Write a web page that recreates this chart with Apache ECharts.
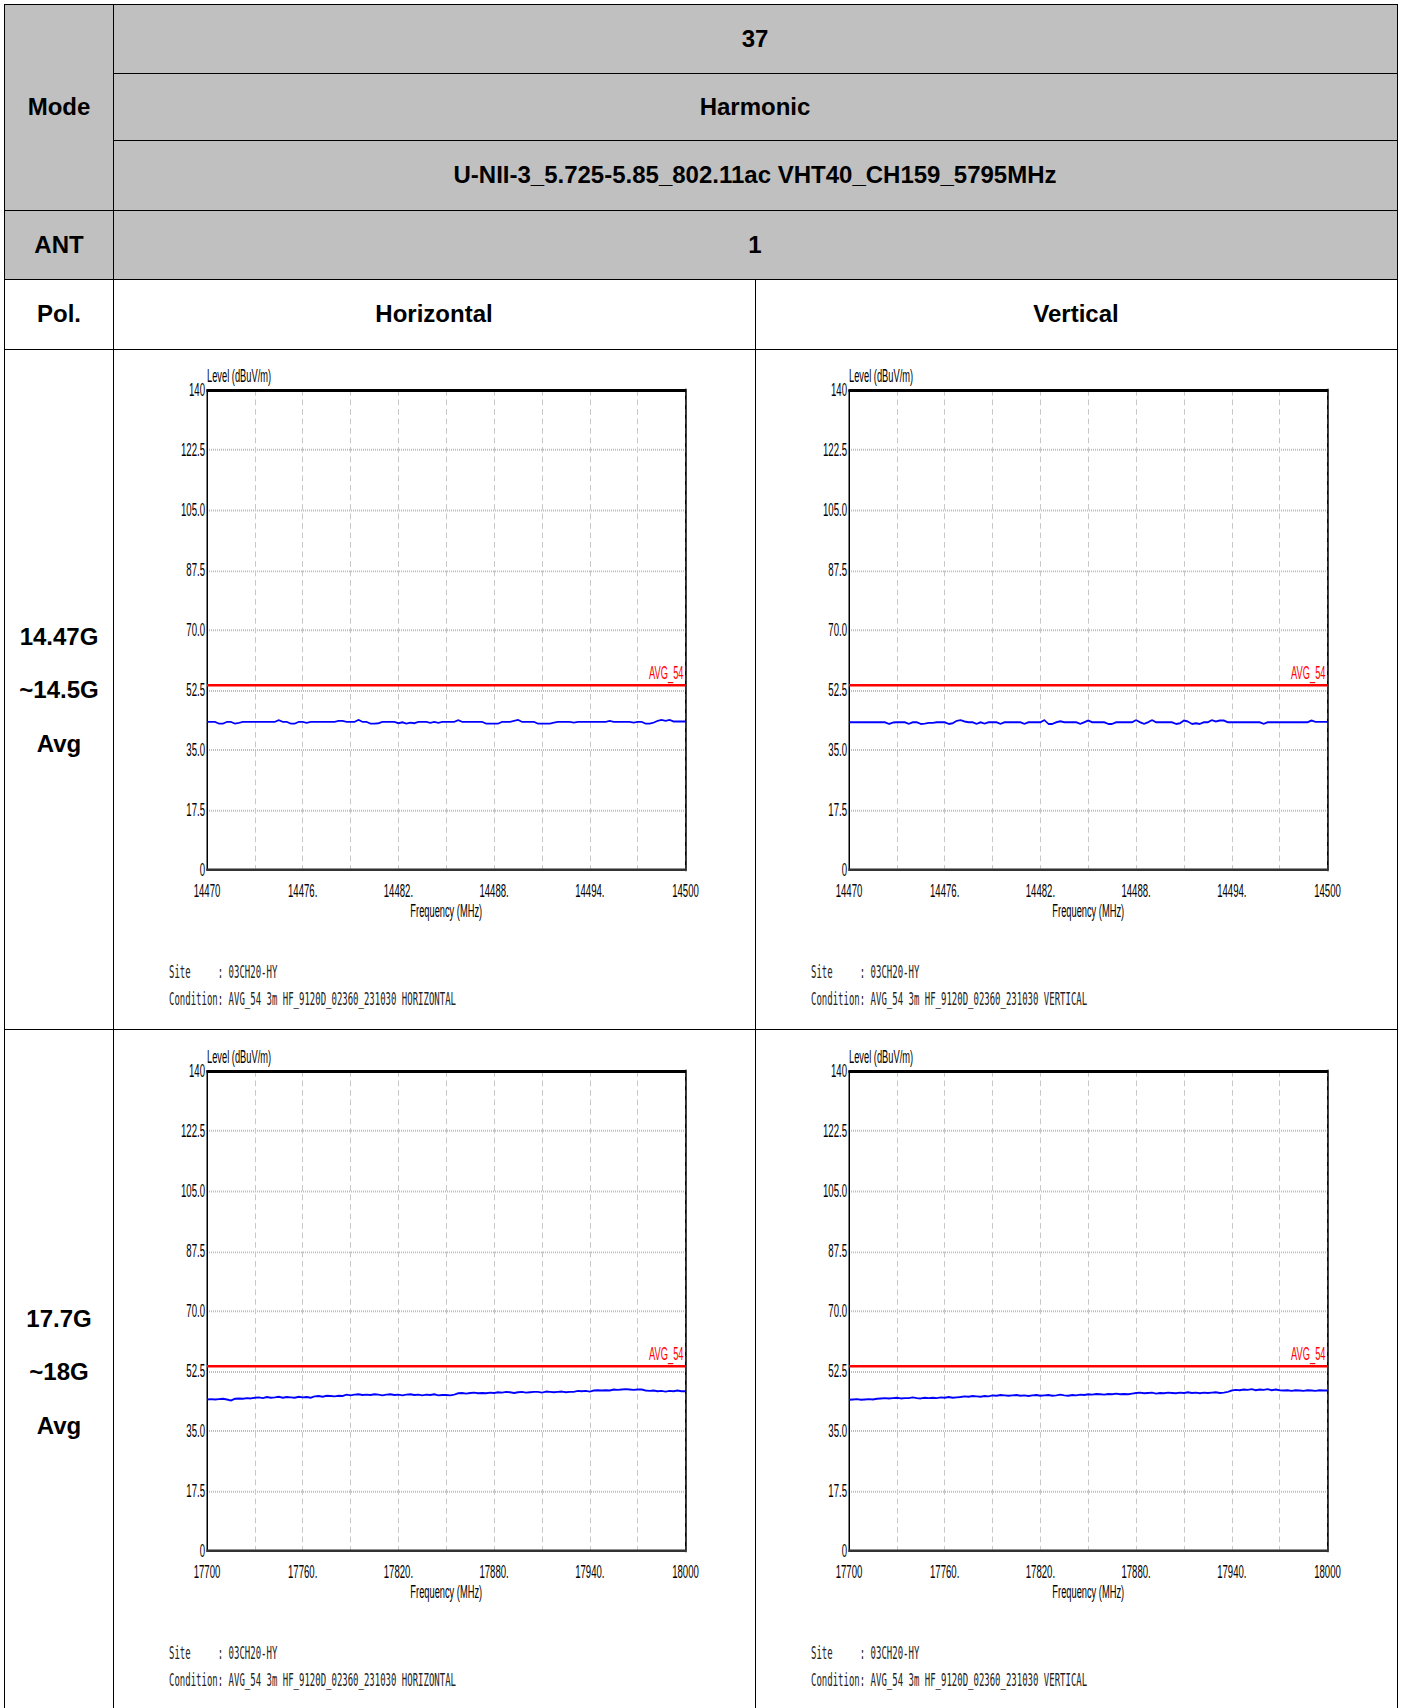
<!DOCTYPE html>
<html>
<head>
<meta charset="utf-8">
<script src="https://cdn.jsdelivr.net/npm/echarts@6/dist/echarts.min.js"></script>
<style>
    body { margin: 0; background: #fff; }
    #page { position: relative; width: 1403px; height: 1708px; overflow: hidden; font-family: "Liberation Sans", Arial, sans-serif; }
    .fill { position: absolute; background: #c0c0c0; }
    .ln { position: absolute; background: #000; }
    .txt { position: absolute; transform: translate(-50%, -50%); font-weight: bold; font-size: 24px; color: #000; white-space: nowrap; }
    .chart { position: absolute; width: 640px; transform-origin: 0 0; }
</style>
</head>
<body>
<div id="page">
    <div class="fill" style="left:4px;top:4px;width:1393px;height:275px"></div>

    <div class="ln" style="left:4px;top:4px;width:1394px;height:1px"></div>
    <div class="ln" style="left:113px;top:73px;width:1285px;height:1px"></div>
    <div class="ln" style="left:113px;top:140px;width:1285px;height:1px"></div>
    <div class="ln" style="left:4px;top:210px;width:1394px;height:1px"></div>
    <div class="ln" style="left:4px;top:279px;width:1394px;height:1px"></div>
    <div class="ln" style="left:4px;top:349px;width:1394px;height:1px"></div>
    <div class="ln" style="left:4px;top:1029px;width:1394px;height:1px"></div>
    <div class="ln" style="left:4px;top:4px;width:1px;height:1710px"></div>
    <div class="ln" style="left:113px;top:4px;width:1px;height:1710px"></div>
    <div class="ln" style="left:755px;top:279px;width:1px;height:1430px"></div>
    <div class="ln" style="left:1397px;top:4px;width:1px;height:1710px"></div>

    <div class="txt" style="left:59px;top:107px">Mode</div>
    <div class="txt" style="left:755px;top:39px">37</div>
    <div class="txt" style="left:755px;top:107px">Harmonic</div>
    <div class="txt" style="left:755px;top:175px">U-NII-3_5.725-5.85_802.11ac VHT40_CH159_5795MHz</div>
    <div class="txt" style="left:59px;top:245px">ANT</div>
    <div class="txt" style="left:755px;top:245px">1</div>
    <div class="txt" style="left:59px;top:314px">Pol.</div>
    <div class="txt" style="left:434px;top:314px">Horizontal</div>
    <div class="txt" style="left:1076px;top:314px">Vertical</div>

    <div class="txt" style="left:59px;top:637px">14.47G</div>
    <div class="txt" style="left:59px;top:690px">~14.5G</div>
    <div class="txt" style="left:59px;top:744px">Avg</div>
    <div class="txt" style="left:59px;top:1319px">17.7G</div>
    <div class="txt" style="left:59px;top:1372px">~18G</div>
    <div class="txt" style="left:59px;top:1426px">Avg</div>

    <div class="chart" id="c1"></div>
    <div class="chart" id="c2"></div>
    <div class="chart" id="c3"></div>
    <div class="chart" id="c4"></div>
</div>
<script>
// tick labels
var yLabels = ['0', '17.5', '35.0', '52.5', '70.0', '87.5', '105.0', '122.5', '140'];
var xLabels1 = ['14470', '', '14476.', '', '14482.', '', '14488.', '', '14494.', '', '14500'];
var xLabels2 = ['17700', '', '17760.', '', '17820.', '', '17880.', '', '17940.', '', '18000'];

var limitLevel = 54;
var limitName = 'AVG_54';

// levels in dBuV/m, evenly spaced over the sweep
var level14H = [
    43.2, 43.2, 43.2, 42.7, 42.7, 43.2, 43.2, 42.7, 42.9, 43.2,
    43.2, 43.2, 43.2, 43.2, 43.2, 43.2, 43.2, 43.2, 43.7, 43.2,
    43.2, 42.7, 42.7, 43.2, 43.2, 42.9, 43.2, 43.2, 43.2, 43.2,
    43.2, 43.2, 43.2, 43.5, 43.5, 43.2, 43.2, 43.2, 43.8, 43.2,
    43.2, 42.7, 42.7, 42.8, 43.2, 43.2, 43.2, 43.2, 42.8, 43.1,
    42.7, 43.0, 42.8, 43.2, 43.2, 43.2, 42.9, 43.2, 42.9, 43.2,
    43.2, 43.2, 43.2, 43.7, 43.2, 43.2, 43.2, 43.2, 43.2, 43.2,
    42.7, 42.7, 42.7, 42.7, 43.2, 43.2, 43.2, 43.5, 43.8, 43.2,
    43.2, 43.2, 43.2, 42.7, 42.7, 42.7, 42.7, 43.0, 43.2, 43.2,
    43.2, 43.2, 43.0, 43.2, 43.2, 43.2, 43.2, 43.2, 43.2, 43.2,
    43.2, 43.5, 43.2, 43.2, 43.2, 43.2, 43.2, 43.0, 43.2, 43.2,
    42.7, 42.7, 43.0, 43.5, 43.8, 43.5, 43.8, 43.3, 43.3, 43.3, 43.3
];
var level14V = [
    43.1, 43.1, 43.1, 43.1, 43.1, 43.1, 43.1, 43.1, 43.1, 43.1,
    42.6, 43.0, 43.1, 43.1, 43.1, 42.6, 43.1, 43.1, 42.6, 42.7,
    42.9, 42.9, 43.1, 43.1, 43.1, 42.6, 42.8, 43.5, 43.7, 43.3,
    43.1, 43.1, 42.6, 43.1, 42.7, 43.1, 43.1, 43.1, 42.6, 43.1,
    43.1, 43.1, 43.1, 43.1, 42.6, 43.1, 43.1, 43.1, 43.1, 43.7,
    42.6, 42.6, 43.1, 43.4, 43.1, 43.1, 43.1, 43.1, 42.6, 43.1,
    43.6, 43.1, 43.1, 43.1, 43.1, 42.6, 42.6, 43.1, 43.1, 43.1,
    43.1, 43.1, 43.7, 43.1, 42.6, 43.1, 43.7, 43.1, 43.1, 43.1,
    43.1, 43.1, 42.6, 42.8, 43.6, 43.3, 42.6, 42.8, 42.6, 43.1,
    43.1, 43.7, 43.3, 43.6, 43.6, 43.1, 43.1, 43.1, 43.1, 43.1,
    43.1, 43.1, 43.1, 43.1, 42.6, 43.1, 43.1, 43.1, 43.1, 43.1,
    43.1, 43.1, 43.1, 43.1, 43.1, 43.1, 43.6, 43.2, 43.2, 43.2, 43.2
];
var level17H = [
    44.2, 44.3, 44.2, 44.3, 44.4, 44.2, 43.9, 44.4, 44.5, 44.4,
    44.6, 44.5, 44.7, 44.8, 44.6, 44.9, 44.7, 44.8, 45.0, 44.7,
    44.9, 44.8, 44.7, 45.0, 44.8, 44.9, 44.7, 45.1, 45.2, 45.0,
    45.3, 45.2, 45.1, 45.3, 45.2, 45.6, 45.4, 45.6, 45.7, 45.5,
    45.6, 45.5, 45.7, 45.6, 45.4, 45.6, 45.7, 45.5, 45.6, 45.4,
    45.6, 45.7, 45.5, 45.6, 45.4, 45.6, 45.5, 45.7, 45.4, 45.5,
    45.5, 45.4, 45.6, 46.0, 46.1, 45.9, 46.1, 46.2, 46.0, 46.1,
    46.0, 46.2, 46.1, 46.3, 46.2, 46.4, 46.3, 46.1, 46.3, 46.4,
    46.2, 46.3, 46.4, 46.4, 46.2, 46.5, 46.4, 46.3, 46.4, 46.5,
    46.3, 46.4, 46.4, 46.7, 46.6, 46.7, 46.5, 46.8, 46.9, 46.8,
    46.9, 46.8, 47.1, 47.0, 47.1, 47.2, 47.1, 47.0, 47.1, 47.1,
    46.8, 46.7, 46.8, 46.6, 46.7, 46.5, 46.7, 46.6, 46.8, 46.6, 46.6
];
var level17V = [
    44.1, 44.2, 44.3, 44.1, 44.2, 44.3, 44.2, 44.4, 44.5, 44.6,
    44.5, 44.6, 44.7, 44.5, 44.6, 44.6, 44.8, 44.6, 44.5, 44.7,
    44.6, 44.7, 44.6, 44.8, 44.7, 44.9, 44.7, 44.8, 44.9, 45.1,
    45.0, 45.2, 45.1, 45.0, 45.2, 45.1, 45.4, 45.3, 45.5, 45.4,
    45.3, 45.4, 45.5, 45.3, 45.4, 45.2, 45.4, 45.5, 45.3, 45.4,
    45.5, 45.3, 45.4, 45.6, 45.4, 45.3, 45.5, 45.4, 45.6, 45.5,
    45.7, 45.6, 45.8, 45.7, 45.6, 45.8, 45.7, 45.9, 45.7, 45.8,
    45.7, 45.9, 46.1, 46.2, 46.0, 46.1, 46.2, 45.9, 46.1, 46.0,
    46.2, 46.1, 46.0, 46.2, 46.1, 46.3, 46.1, 46.2, 46.0, 46.2,
    46.1, 46.2, 46.3, 46.1, 46.2, 46.4, 46.8, 47.0, 46.9, 47.1,
    47.0, 47.2, 46.9, 47.1, 47.0, 47.2, 46.9, 47.1, 46.9, 46.8,
    46.9, 46.7, 46.9, 46.8, 46.7, 46.9, 46.8, 46.7, 46.9, 46.8, 46.8
];

// the plot pictures are stretched vertically, like the scanned report
var K = 1.9;
var boxH = 678 / K;
var font = '"Liberation Sans", Arial, sans-serif';
var mono = '"DejaVu Sans Mono", "Liberation Mono", monospace';

function makeChart(id, left, top, span, xLabels, levels, pol) {
    var el = document.getElementById(id);
    el.style.left = left + 'px';
    el.style.top = top + 'px';
    el.style.height = boxH + 'px';
    el.style.transform = 'scaleY(' + K + ')';

    var step = span / (levels.length - 1);
    var pts = levels.map(function (v, i) { return [i * step, v]; });

    var chart = echarts.init(el, null, { renderer: 'svg', width: 640, height: boxH });
    chart.setOption({
        animation: false,
        grid: {
            left: 93, width: 478.5, top: 40 / K, height: 480 / K,
            show: true, borderColor: '#000', borderWidth: 1
        },
        xAxis: [{
            type: 'value', min: 0, max: span, interval: span / 10,
            axisLine: { show: true, onZero: false, lineStyle: { color: '#333', width: 1.3 } },
            axisTick: { show: false },
            axisLabel: {
                margin: 5.7, fontSize: 9.6, color: '#000', fontFamily: font,
                formatter: function (v, i) { return xLabels[i]; }
            },
            splitLine: { show: true, lineStyle: { color: '#c8c8c8', type: [3, 2], width: 1 } },
            name: 'Frequency (MHz)', nameLocation: 'middle', nameGap: 17, nameMoveOverlap: false,
            nameTextStyle: { fontSize: 9.3, color: '#000', fontFamily: font }
        }, {
            type: 'value', min: 0, max: span, position: 'top',
            axisLine: { show: true, onZero: false, lineStyle: { color: '#000', width: 1.3 } },
            axisTick: { show: false }, axisLabel: { show: false }, splitLine: { show: false }
        }],
        yAxis: [{
            type: 'value', min: 0, max: 140, interval: 17.5,
            axisLine: { show: true, onZero: false, lineStyle: { color: '#000', width: 1 } },
            axisTick: { show: false },
            axisLabel: {
                margin: 2, fontSize: 9.6, color: '#000', fontFamily: font,
                formatter: function (v, i) { return yLabels[i]; }
            },
            splitLine: { show: true, lineStyle: { color: '#bdbdbd', type: 'dotted', width: 1 } },
            name: 'Level (dBuV/m)', nameLocation: 'end', nameGap: 3, nameMoveOverlap: false,
            nameTextStyle: { fontSize: 9.3, color: '#000', fontFamily: font, align: 'left', verticalAlign: 'bottom' }
        }, {
            type: 'value', min: 0, max: 140, position: 'right',
            axisLine: { show: true, onZero: false, lineStyle: { color: '#000', width: 1.5 } },
            axisTick: { show: false }, axisLabel: { show: false }, splitLine: { show: false }
        }],
        series: [{
            type: 'line',
            data: pts,
            showSymbol: false,
            lineStyle: { color: '#0000ff', width: 1 },
            markLine: {
                silent: true,
                symbol: ['none', 'none'],
                data: [{ yAxis: limitLevel }],
                lineStyle: { color: '#ff0000', width: 1.3, type: 'solid' },
                label: {
                    position: 'insideEndTop', formatter: limitName, distance: 2,
                    color: '#ff0000', fontSize: 9.3, fontFamily: font
                }
            }
        }],
        graphic: [{
            type: 'text', left: 55, top: 613 / K,
            style: { text: 'Site     : 03CH20-HY', font: '9px ' + mono, fill: '#222' }
        }, {
            type: 'text', left: 55, top: 640 / K,
            style: { text: 'Condition: AVG_54 3m HF_9120D_02360_231030 ' + pol, font: '9px ' + mono, fill: '#222' }
        }]
    });
}

makeChart('c1', 114, 350, 30, xLabels1, level14H, 'HORIZONTAL');
makeChart('c2', 756, 350, 30, xLabels1, level14V, 'VERTICAL');
makeChart('c3', 114, 1031, 300, xLabels2, level17H, 'HORIZONTAL');
makeChart('c4', 756, 1031, 300, xLabels2, level17V, 'VERTICAL');
</script>
</body>
</html>
